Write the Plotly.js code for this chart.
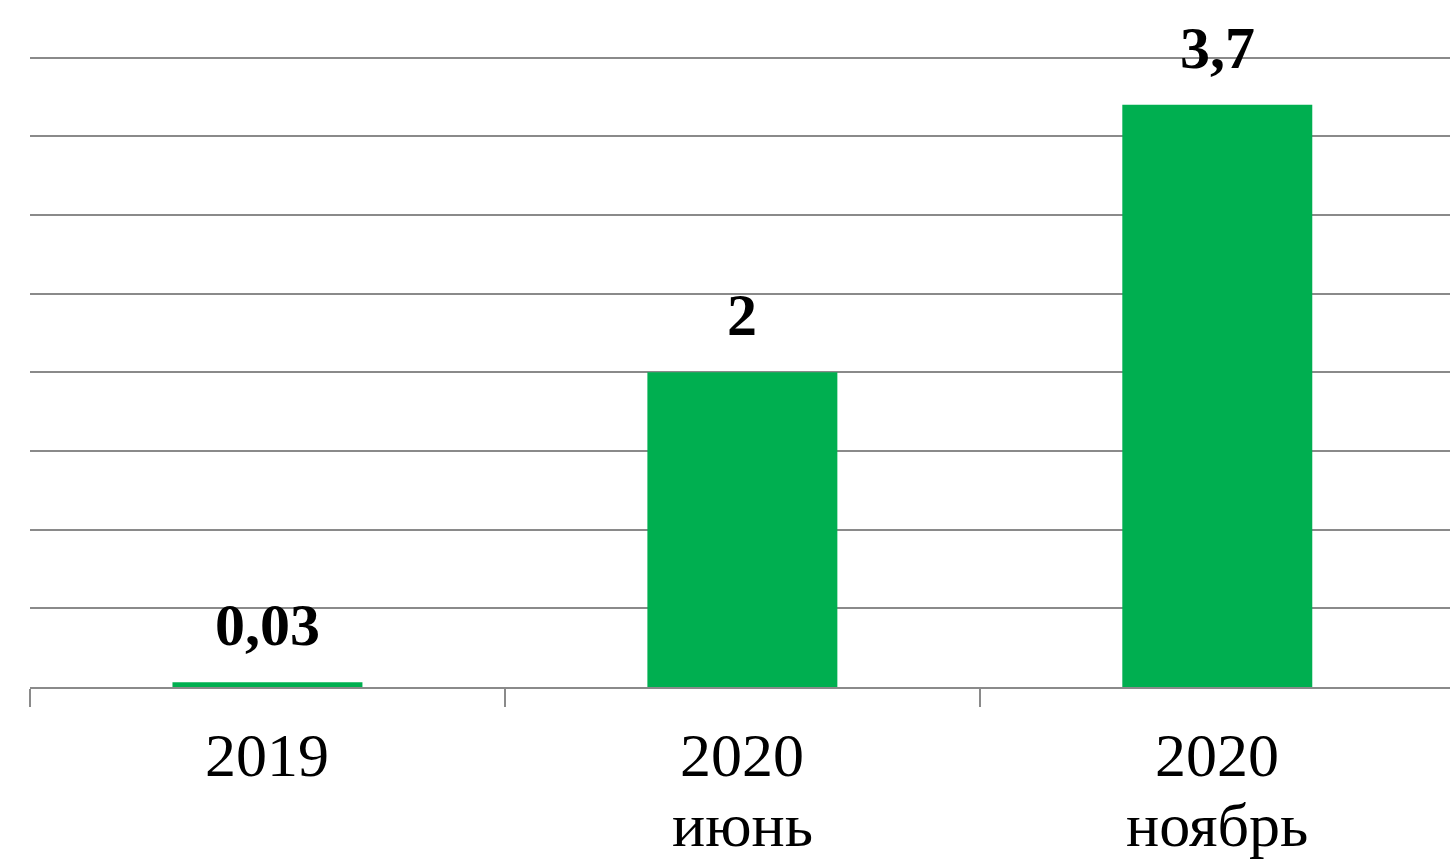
<!DOCTYPE html>
<html>
<head>
<meta charset="utf-8">
<script src="https://cdn.plot.ly/plotly-3.0.1.min.js"></script>
<style>html,body{margin:0;padding:0;background:#fff;}#chart{width:1450px;height:859px;}</style>
</head>
<body>
<div id="chart"></div>
<script>
var categories = ["2019", "2020<br>июнь", "2020<br>ноябрь"];
var values = [0.03, 2, 3.7];
var valueLabels = ["0,03", "2", "3,7"];

var serif = "Liberation Serif, Times New Roman, serif";

var trace = {
  type: "bar",
  x: categories,
  y: values,
  width: 0.4,
  marker: {color: "#00AF50"},
  hoverinfo: "none"
};

var annotations = [];
categories.forEach(function (c, i) {
  annotations.push({
    x: i, y: values[i], xref: "x", yref: "y",
    text: "<b>" + valueLabels[i] + "</b>",
    showarrow: false, yanchor: "bottom", yshift: 22,
    font: {family: serif, size: 60, color: "#000"}
  });
  // category label, one annotation per line for tighter line spacing
  c.split("<br>").forEach(function (line, k) {
    annotations.push({
      x: i, y: 0, xref: "x", yref: "paper",
      text: line,
      showarrow: false, yanchor: "top", yshift: -32 - 70 * k,
      font: {family: serif, size: 62, color: "#000"}
    });
  });
});

var layout = {
  width: 1450, height: 859,
  margin: {l: 30, r: 0, t: 56, b: 172, pad: 0},
  paper_bgcolor: "#fff", plot_bgcolor: "#fff",
  showlegend: false,
  xaxis: {
    type: "category",
    range: [-0.5, 2.49],
    showgrid: false,
    showline: true, linecolor: "#8a8a8a", linewidth: 2,
    ticks: "outside", tickson: "boundaries", ticklen: 18, tickcolor: "#8a8a8a", tickwidth: 2,
    showticklabels: false,
    fixedrange: true
  },
  yaxis: {
    range: [0, 4.01],
    tickvals: [0.5, 1, 1.5, 2, 2.5, 3, 3.5, 4],
    showgrid: true, gridcolor: "#8a8a8a", gridwidth: 2,
    zeroline: false,
    showticklabels: false,
    showline: false,
    fixedrange: true
  },
  annotations: annotations
};

Plotly.newPlot("chart", [trace], layout, {displayModeBar: false, staticPlot: true});
</script>
</body>
</html>
